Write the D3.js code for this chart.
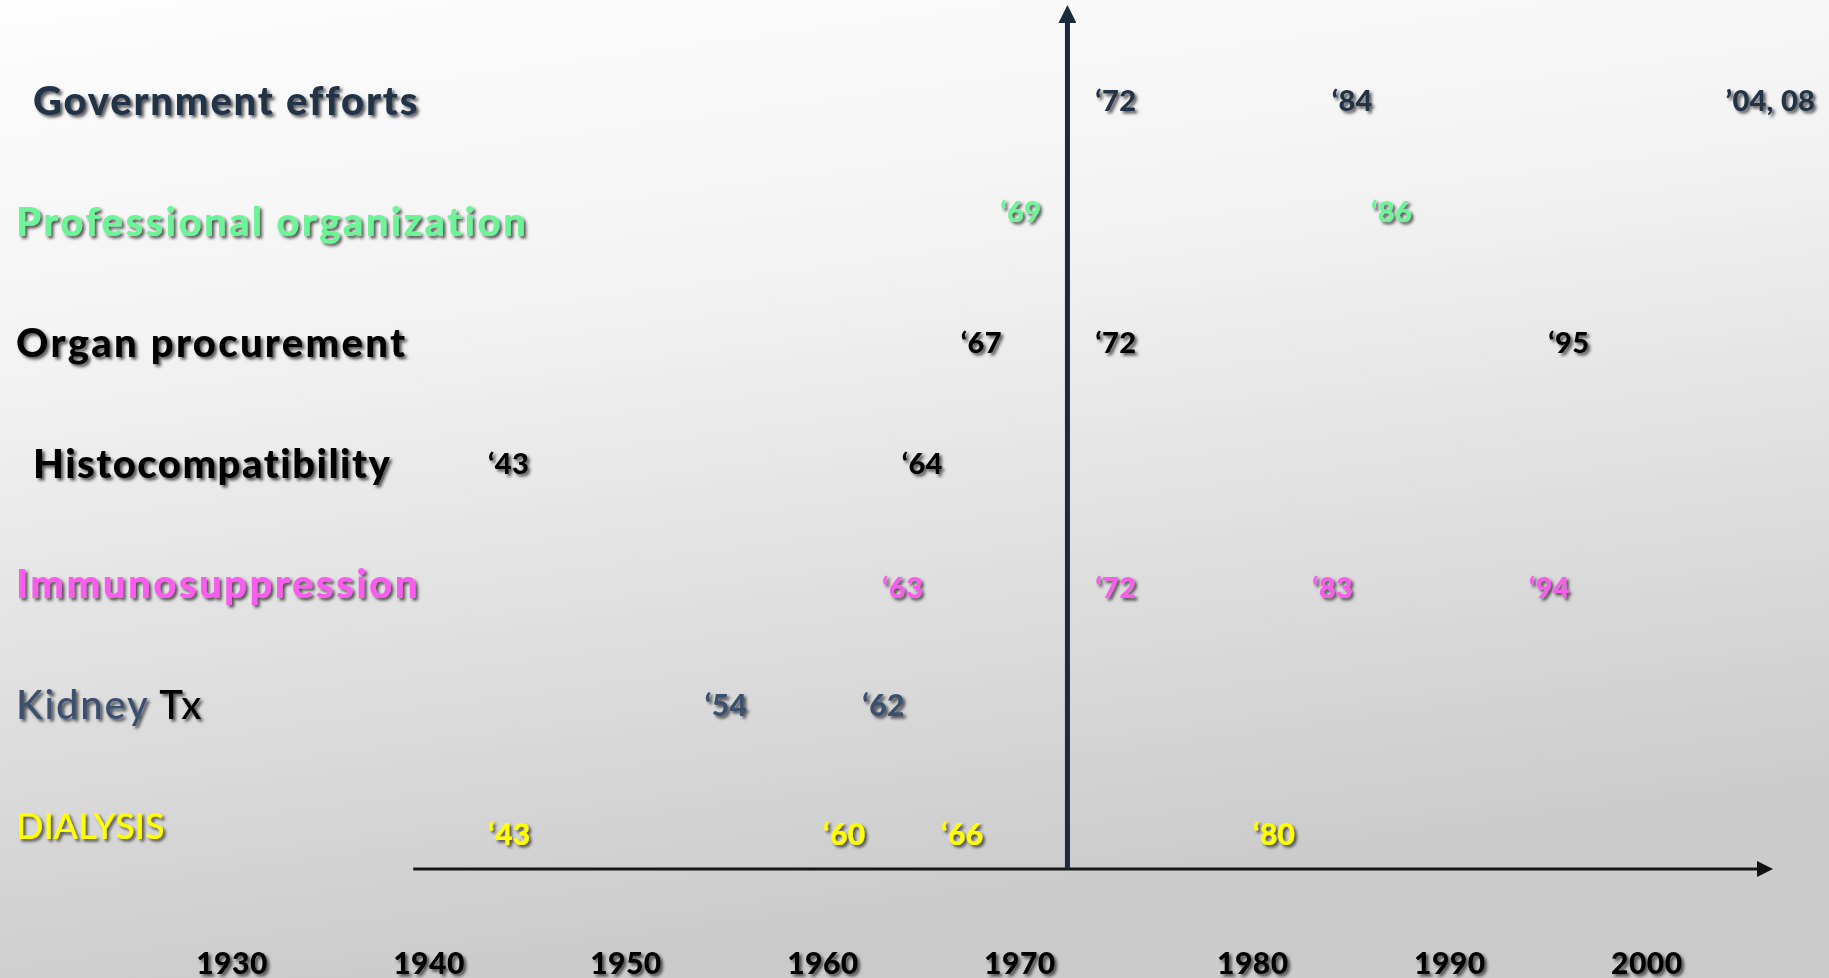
<!DOCTYPE html>
<html>
<head>
<meta charset="utf-8">
<script src="https://cdn.jsdelivr.net/npm/d3@7"></script>
<style>
  html, body { margin: 0; padding: 0; overflow: hidden; }
  svg { display: block; }
</style>
</head>
<body>
<svg id="chart" width="1829" height="978"></svg>
<script>
// ---------- DATA ----------
const categories = [
  "Government efforts",
  "Professional organization",
  "Organ procurement",
  "Histocompatibility",
  "Immunosuppression",
  "Kidney Tx",
  "DIALYSIS"
];
const governmentYears = [1972, 1984, 2004];
const governmentLabels = ["‘72", "‘84", "’04, 08"];
const professionalYears = [1969, 1986];
const procurementYears = [1967, 1972, 1995];
const histocompatibilityYears = [1943, 1964];
const immunosuppressionYears = [1963, 1972, 1983, 1994];
const kidneyYears = [1954, 1962];
const dialysisYears = [1943, 1960, 1966, 1980];
const tickYears = [1930, 1940, 1950, 1960, 1970, 1980, 1990, 2000];
const dividerYear = 1971.5;
const axisYears = [1939.2, 2006];

const seriesYears = [governmentYears, professionalYears, procurementYears,
  histocompatibilityYears, immunosuppressionYears, kidneyYears, dialysisYears];
const shortLabel = y => "‘" + String(y).slice(2);
const seriesLabels = seriesYears.map((ys, i) => i === 0 ? governmentLabels : ys.map(shortLabel));

// ---------- STYLE ----------
const W = 1829, H = 978;
const rowStyle = [
  {color: "#233246", weight: 900, size: 40, ls: 1.8, indent: 17, ySize: 29, yDy: 0},
  {color: "#6cf497", weight: 900, size: 40, ls: 2.4, indent: 0,  ySize: 29, yDy: -10},
  {color: "#000000", weight: 900, size: 40, ls: 2.3, indent: 0,  ySize: 29, yDy: 0},
  {color: "#000000", weight: 900, size: 40, ls: 1.5, indent: 17, ySize: 29, yDy: 0},
  {color: "#fa5ced", weight: 900, size: 40, ls: 2.5, indent: 0,  ySize: 29, yDy: 4},
  {color: "#3a4f6e", weight: 500, size: 40, ls: 1.8, indent: 0,  ySize: 30, yDy: 0, accent: "#000000"},
  {color: "#ffff00", weight: 500, size: 36, ls: 0,   indent: 0,  ySize: 30, yDy: 8}
];
const fontMain = "Lato, 'Open Sans', 'DejaVu Sans', sans-serif";
const gutter = 18;   // gap kept on each side of the divider

const svg = d3.select("#chart");
const defs = svg.append("defs");

const bg = defs.append("linearGradient").attr("id", "bg")
  .attr("x1", "0").attr("y1", "0").attr("x2", "0.25").attr("y2", "1");
bg.append("stop").attr("offset", "0%").attr("stop-color", "#fdfdfd");
bg.append("stop").attr("offset", "35%").attr("stop-color", "#f3f3f3");
bg.append("stop").attr("offset", "100%").attr("stop-color", "#cbcbcb");

const sh = defs.append("filter").attr("id", "shadow")
  .attr("x", "-10%").attr("y", "-30%").attr("width", "130%").attr("height", "170%");
sh.append("feDropShadow").attr("dx", 2.5).attr("dy", 2.5).attr("stdDeviation", 1.4)
  .attr("flood-color", "#000").attr("flood-opacity", 0.65);

defs.append("marker").attr("id", "arrowUp")
  .attr("viewBox", "0 0 10 10").attr("refX", 5).attr("refY", 5)
  .attr("markerUnits", "userSpaceOnUse").attr("markerWidth", 18).attr("markerHeight", 18)
  .attr("orient", "auto")
  .append("path").attr("d", "M0,0 L10,5 L0,10 Z").attr("fill", "#1c2a3d");

defs.append("marker").attr("id", "arrowRight")
  .attr("viewBox", "0 0 10 10").attr("refX", 5).attr("refY", 5)
  .attr("markerUnits", "userSpaceOnUse").attr("markerWidth", 16).attr("markerHeight", 16)
  .attr("orient", "auto")
  .append("path").attr("d", "M0,0 L10,5 L0,10 Z").attr("fill", "#111");

svg.append("rect").attr("width", W).attr("height", H).attr("fill", "url(#bg)");

// ---------- SCALES ----------
const x = d3.scaleLinear().domain([1940, 2006]).range([447, 1747]);
const pos = yr => x(yr) + (yr < dividerYear ? -gutter : gutter);
const y = d3.scalePoint().domain(categories).range([101, 826]);
const axisY = 869;

// ---------- AXES ----------
svg.append("line")
  .attr("x1", pos(axisYears[0])).attr("x2", pos(axisYears[1]))
  .attr("y1", axisY).attr("y2", axisY)
  .attr("stroke", "#161616").attr("stroke-width", 3)
  .attr("marker-end", "url(#arrowRight)");

svg.append("line")
  .attr("x1", x(dividerYear)).attr("x2", x(dividerYear))
  .attr("y1", axisY).attr("y2", 14)
  .attr("stroke", "#1c2a3d").attr("stroke-width", 5)
  .attr("marker-end", "url(#arrowUp)");

svg.append("g").selectAll("text").data(tickYears).join("text")
  .attr("x", d => pos(d)).attr("y", 963).attr("dy", "0.35em")
  .attr("text-anchor", "middle")
  .attr("font-family", fontMain).attr("font-weight", 900).attr("font-size", 30)
  .attr("letter-spacing", 0.5)
  .attr("fill", "#000").attr("filter", "url(#shadow)")
  .text(d => d);

// ---------- CATEGORY LABELS ----------
const cat = svg.append("g").selectAll("text").data(categories).join("text")
  .attr("x", (d, i) => 16 + rowStyle[i].indent)
  .attr("y", d => y(d)).attr("dy", "0.35em")
  .attr("font-family", fontMain)
  .attr("font-weight", (d, i) => rowStyle[i].weight)
  .attr("font-size", (d, i) => rowStyle[i].size)
  .attr("letter-spacing", (d, i) => rowStyle[i].ls)
  .attr("fill", (d, i) => rowStyle[i].color)
  .attr("filter", "url(#shadow)");

cat.each(function (d, i) {
  const t = d3.select(this);
  const st = rowStyle[i];
  if (st.accent) {
    const words = d.split(" ");
    t.append("tspan").text(words.slice(0, -1).join(" ") + " ");
    t.append("tspan").attr("fill", st.accent).text(words[words.length - 1]);
  } else {
    t.text(d);
  }
});

// ---------- EVENT YEAR LABELS ----------
const events = [];
seriesYears.forEach((ys, i) => ys.forEach((yr, j) =>
  events.push({cat: categories[i], row: i, year: yr, label: seriesLabels[i][j]})));

svg.append("g").selectAll("text").data(events).join("text")
  .attr("x", d => pos(d.year))
  .attr("y", d => y(d.cat) + rowStyle[d.row].yDy).attr("dy", "0.35em")
  .attr("font-family", fontMain)
  .attr("font-weight", 900)
  .attr("font-size", d => rowStyle[d.row].ySize)
  .attr("letter-spacing", 0.3)
  .attr("fill", d => rowStyle[d.row].color)
  .attr("filter", "url(#shadow)")
  .text(d => d.label);
</script>
</body>
</html>
